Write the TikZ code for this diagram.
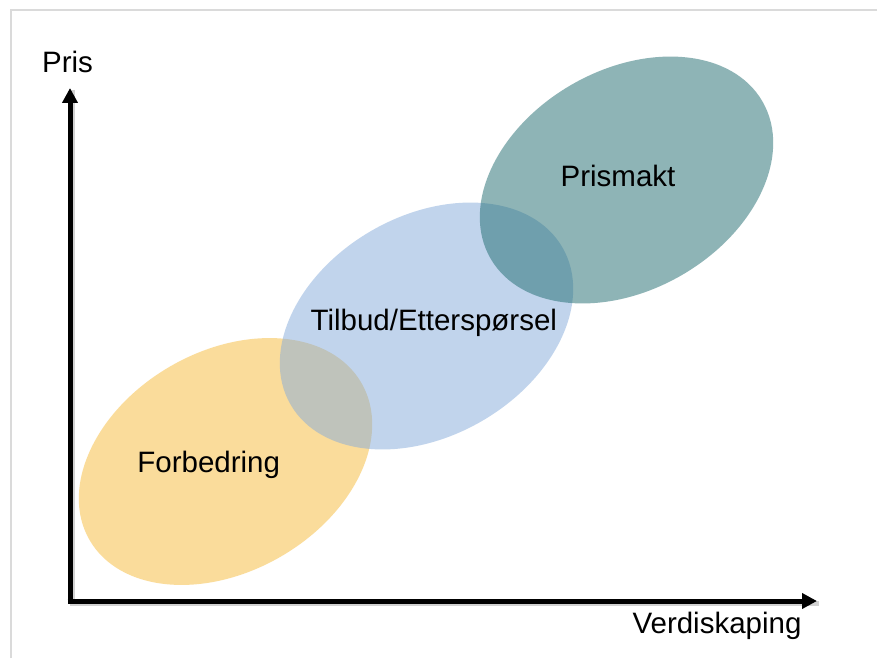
\documentclass[tikz,border=0pt]{standalone}
\usepackage{fontspec}
\setmainfont{Liberation Sans}
\usetikzlibrary{arrows.meta,shapes.geometric}
\definecolor{frameC}{RGB}{218,218,218}
\definecolor{orangeC}{RGB}{247,187,57}
\definecolor{blueC}{RGB}{133,171,219}
\definecolor{tealC}{RGB}{31,107,111}
\tikzset{
  blob/.style={ellipse, draw=none, inner sep=0pt, minimum width=314pt, minimum height=220pt, rotate=30, fill opacity=0.5},
  lbl/.style={anchor=base, inner sep=0pt, font=\fontsize{29.5}{34}\selectfont, text=black},
  axis/.style={line width=5pt, line cap=butt, line join=miter, -{Triangle[width=15pt,length=15pt]}},
  axisshadow/.style={line width=5pt, line join=miter, draw=black, draw opacity=0.18}
}
\begin{document}
\begin{tikzpicture}[x=1pt,y=-1pt]
\useasboundingbox (0,0) rectangle (877,658);
\fill[white] (0,0) rectangle (877,658);
% frame
\draw[frameC, line width=2pt] (11,658) -- (11,10) -- (877,10);
% ellipses
\node[blob, fill=orangeC] (forb) at (225.5,461.5) {};
\node[blob, fill=blueC] (tilb) at (426.5,326) {};
\node[blob, fill=tealC] (prism) at (626.5,180) {};
% axes
\coordinate (origin) at (70,601);
\coordinate (ytip) at (70,88);
\coordinate (xtip) at (817,601);
\draw[axisshadow] ([shift={(2,2)}]ytip) -- ([shift={(2,2)}]origin) -- ([shift={(2,2)}]xtip);
\draw[axis] (origin) -- (ytip);
\draw[axis] ([xshift=-2.5pt]origin) -- (xtip);
% labels
\node[lbl] (pris) at (67.5,73) {Pris};
\node[lbl] (verdi) at (717,633) {Verdiskaping};
\node[lbl] (tforb) at (208.7,472) {Forbedring};
\node[lbl] (ttilb) at (433.8,330) {Tilbud/Etterspørsel};
\node[lbl] (tprism) at (618,186.5) {Prismakt};
\end{tikzpicture}
\end{document}
